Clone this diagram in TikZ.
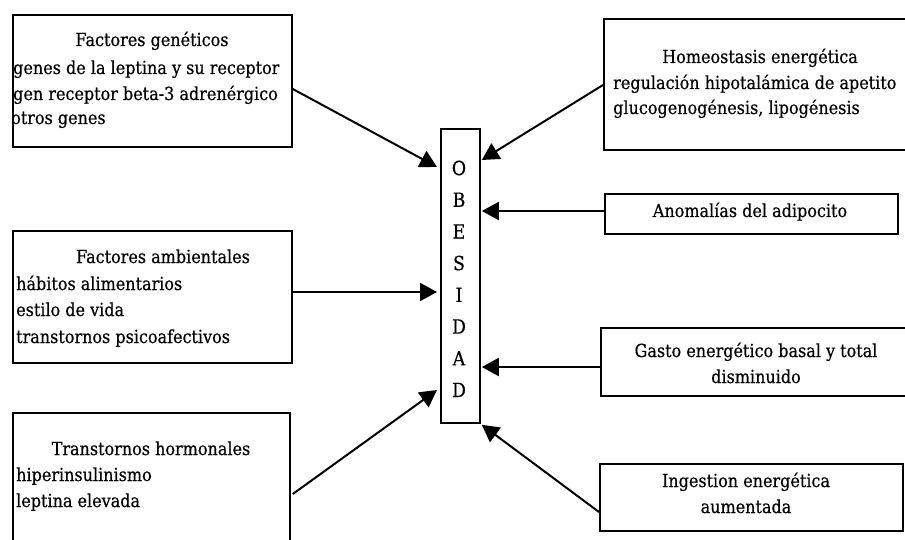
\documentclass[tikz,border=0pt]{standalone}
\usepackage{fontspec}
\setmainfont{DejaVu Serif}[FakeBold=0.5, FakeStretch=0.89]
\usetikzlibrary{arrows.meta,calc}
\begin{document}
\begin{tikzpicture}[x=1pt,y=-1pt,
  box/.style={draw, line width=1.8pt, rectangle, inner sep=0pt, anchor=north west},
  conn/.style={line width=2pt, -{Triangle[length=17pt,width=18pt]}},
  txt/.style={inner sep=0pt, font=\fontsize{18}{20}\selectfont},
  letter/.style={inner sep=0pt, font=\fontsize{19.5}{20}\selectfont}]
\useasboundingbox (0,0) rectangle (905,540);
\fill[white] (0,0) rectangle (905,540);
\clip (0,0) rectangle (905,540);

% boxes
\node[box, minimum width=279pt, minimum height=132pt] (gen) at (12,14) {};
\node[box, minimum width=279pt, minimum height=132pt] (amb) at (12,230) {};
\node[box, minimum width=277pt, minimum height=150pt] (hor) at (12,412) {};
\node[box, minimum width=39pt, minimum height=294pt] (obe) at (440,128) {};
\node[box, minimum width=320pt, minimum height=131pt] (hom) at (603,18) {};
\node[box, minimum width=293pt, minimum height=40pt] (ano) at (604,193) {};
\node[box, minimum width=320pt, minimum height=68pt] (gas) at (600,327) {};
\node[box, minimum width=303pt, minimum height=67pt] (ing) at (599,463) {};

% texts left
\node[txt, anchor=base] (genT) at (152,46) {Factores genéticos};
\node[txt, anchor=base west] (genA) at (13,74) {genes de la leptina y su receptor};
\node[txt, anchor=base west] (genB) at (13,100) {gen receptor beta-3 adrenérgico};
\node[txt, anchor=base west] (genC) at (11,124) {otros genes};

\node[txt, anchor=base] (ambT) at (163,263) {Factores ambientales};
\node[txt, anchor=base west] (ambA) at (16,290) {hábitos alimentarios};
\node[txt, anchor=base west] (ambB) at (16,316) {estilo de vida};
\node[txt, anchor=base west] (ambC) at (16,343) {transtornos psicoafectivos};

\node[txt, anchor=base] (horT) at (151,455) {Transtornos hormonales};
\node[txt, anchor=base west] (horA) at (16,481) {hiperinsulinismo};
\node[txt, anchor=base west] (horB) at (16,507) {leptina elevada};

% texts right
\node[txt, anchor=base] (homT) at (760,63) {Homeostasis energética};
\node[txt, anchor=base west] (homA) at (613,89) {regulación hipotalámica de apetito};
\node[txt, anchor=base west] (homB) at (613,114) {glucogenogénesis, lipogénesis};

\node[txt, anchor=base] (anoT) at (750,217) {Anomalías del adipocito};

\node[txt, anchor=base] (gasT) at (756,357) {Gasto energético basal y total};
\node[txt, anchor=base] (gasB) at (756,383) {disminuido};

\node[txt, anchor=base] (ingT) at (746,487) {Ingestion energética};
\node[txt, anchor=base] (ingB) at (746,513) {aumentada};

% OBESIDAD letters
\foreach \l [count=\i from 0] in {O,B,E,S,I,D,A,D}{
  \node[letter] (ob\i) at (459,{168+31.7*\i}) {\l};
}

% connectors
\draw[conn] ($(gen.north east)+(0,75)$) -- ($(obe.north west)+(-3,39)$);
\draw[conn] ($(amb.north east)+(0,62)$) -- ($(obe.north west)+(-3,164)$);
\draw[conn] ($(hor.north east)+(2,82)$) -- ($(obe.north west)+(-3,262)$);
\draw[conn] ($(hom.north west)+(0,67)$) -- ($(obe.north east)+(1,32)$);
\draw[conn] ($(ano.north west)+(0,18)$) -- ($(obe.north east)+(1,83)$);
\draw[conn] ($(gas.north west)+(0,40)$) -- ($(obe.north east)+(1,239)$);
\draw[conn] ($(ing.north west)+(0,49)$) -- ($(obe.south east)+(1,1)$);
\end{tikzpicture}
\end{document}
